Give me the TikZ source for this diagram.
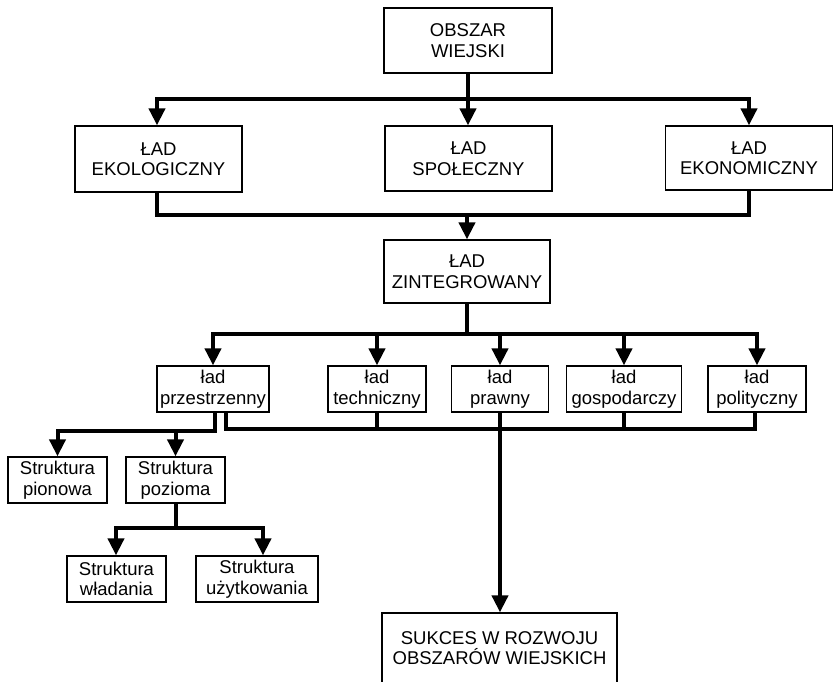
\documentclass[tikz,border=0pt]{standalone}
\usepackage{fontspec}
\setmainfont{Liberation Sans}
\usetikzlibrary{arrows.meta}

\begin{document}
\begin{tikzpicture}[x=1pt, y=-1pt]

  % ── Style ramek i połączeń ────────────────────────
  \tikzset{
    ramka/.style = {draw, line width=1.3pt, inner sep=0pt, align=center,
                    minimum height=46pt, font=\fontsize{18.5}{20.5}\selectfont},
    linia/.style = {line width=4pt, line cap=rect},
    strzalka/.style = {linia, -{Triangle[length=17pt, width=16pt]}}
  }

  \useasboundingbox (0,0) rectangle (833,682);
  \clip (0,0) rectangle (833,682);

  % =========================================================
  % 1. OBSZAR WIEJSKI I TRZY ŁADY
  % =========================================================
  \node[ramka, minimum width=168pt, minimum height=65pt] (obszar) at (468,40.5) {OBSZAR\\WIEJSKI};

  \node[ramka, minimum width=167pt, minimum height=66pt] (ekolog) at (158.5,159) {ŁAD\\EKOLOGICZNY};
  \node[ramka, minimum width=167pt, minimum height=65pt] (spolecz) at (468.5,158.5) {ŁAD\\SPOŁECZNY};
  \node[ramka, minimum width=167pt, minimum height=64pt] (ekonom) at (749,158) {ŁAD\\EKONOMICZNY};

  \node[ramka, minimum width=166pt, minimum height=63pt] (zintegr) at (467,271.5) {ŁAD\\ZINTEGROWANY};

  % szyny
  \coordinate (g1L) at (157,99);
  \coordinate (g1R) at (749,99);
  \coordinate (g2L) at (157,215);
  \coordinate (g2R) at (749,215);

  \draw[strzalka] (obszar.south |- g1L) -- (g1L) -- (g1L |- ekolog.north);
  \draw[strzalka] (obszar.south |- g1R) -- (g1R) -- (g1R |- ekonom.north);
  \draw[strzalka] (obszar.south) -- (obszar.south |- spolecz.north);

  \draw[linia] (g2L |- ekolog.south) -- (g2L) -- (g2R) -- (g2R |- ekonom.south);
  \draw[strzalka] (zintegr.north |- g2L) -- (zintegr.north);

  % =========================================================
  % 2. ŁADY SZCZEGÓŁOWE
  % =========================================================
  \node[ramka, minimum width=112pt] (przestrz) at (213,389) {ład\\przestrzenny};
  \node[ramka, minimum width=98pt] (techn) at (377,389) {ład\\techniczny};
  \node[ramka, minimum width=97pt] (prawny) at (500,389) {ład\\prawny};
  \node[ramka, minimum width=115pt] (gospod) at (624,389) {ład\\gospodarczy};
  \node[ramka, minimum width=98pt] (polit) at (757,389) {ład\\polityczny};

  \coordinate (g3L) at (212,334);
  \draw[linia] (zintegr.south) -- (zintegr.south |- g3L);
  \draw[linia] (przestrz.north |- g3L) -- (polit.north |- g3L);
  \foreach \n in {przestrz, techn, prawny, gospod, polit}
    \draw[strzalka] (\n.north |- g3L) -- (\n.north);

  % wspólna szyna pod ładami
  \coordinate (d1) at (226,429);
  \coordinate (d2) at (755,429);
  \draw[linia] (przestrz.south -| d1) -- (d1) -- (d2) -- (d2 |- polit.south);
  \foreach \n in {techn, gospod}
    \draw[linia] (\n.south) -- (\n.south |- d1);

  % =========================================================
  % 3. STRUKTURY
  % =========================================================
  \node[ramka, minimum width=99pt] (pionowa) at (57.5,480) {Struktura\\pionowa};
  \node[ramka, minimum width=99pt] (pozioma) at (175.5,480) {Struktura\\pozioma};
  \node[ramka, minimum width=99pt] (wladania) at (116.5,579) {Struktura\\władania};
  \node[ramka, minimum width=122pt] (uzytk) at (257,579) {Struktura\\użytkowania};

  \coordinate (l1) at (215,431);
  \draw[linia] (przestrz.south -| l1) -- (l1);
  \draw[strzalka] (l1) -- (l1 -| pionowa.north) -- (pionowa.north);
  \draw[strzalka] (l1 -| pozioma.north) -- (pozioma.north);

  \coordinate (s1L) at (116,528);
  \coordinate (s1R) at (263,528);
  \draw[strzalka] (pozioma.south |- s1L) -- (s1L) -- (s1L |- wladania.north);
  \draw[strzalka] (pozioma.south) -- (pozioma.south |- s1R) -- (s1R) -- (s1R |- uzytk.north);

  % =========================================================
  % 4. SUKCES
  % =========================================================
  \node[ramka, minimum width=235pt, minimum height=70pt] (sukces) at (499.5,648) {SUKCES W ROZWOJU\\OBSZARÓW WIEJSKICH};
  \draw[strzalka] (prawny.south) -- (prawny.south |- sukces.north);

\end{tikzpicture}
\end{document}
